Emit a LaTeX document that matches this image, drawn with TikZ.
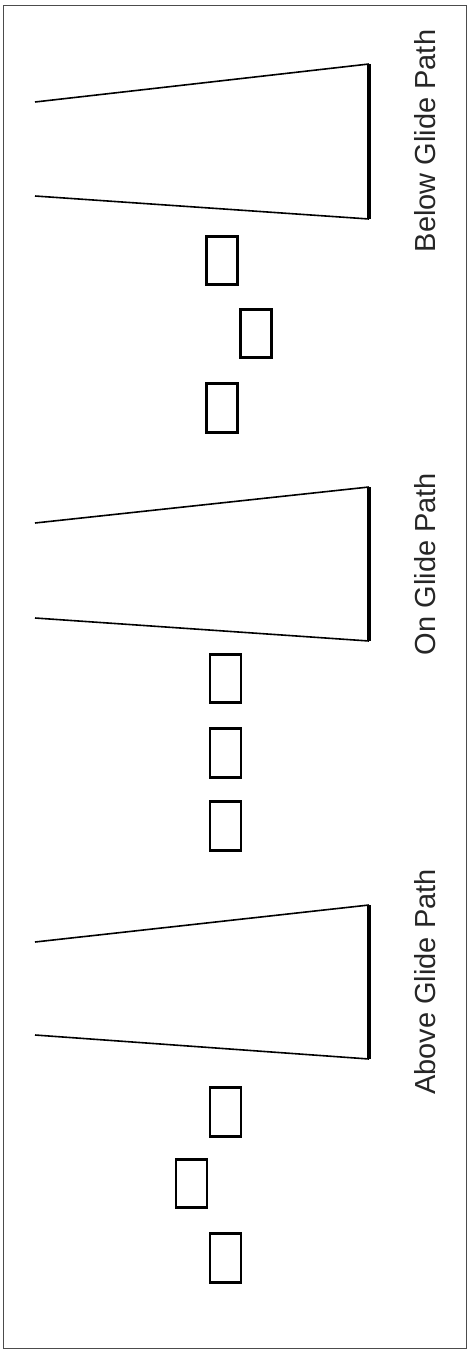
\documentclass[tikz,border=0pt]{standalone}
\usepackage{fontspec}
\setmainfont{Liberation Sans}
\begin{document}
\begin{tikzpicture}[x=1pt, y=-1pt,
        lamp/.style={rectangle, draw, line width=2.6pt, minimum width=31pt, minimum height=48.5pt, inner sep=0pt},
        edge/.style={line width=1.6pt},
        bar/.style={line width=3.2pt},
        caption/.style={rotate=90, font=\fontsize{29}{34}\selectfont, text=black!85, inner sep=0pt}]
        \useasboundingbox (0,0) rectangle (470,1354);
        \draw[gray!60!black, line width=1.5pt] (3.5,5.5) rectangle (466.5,1348.5);

        % Define runway corners
        \coordinate (btl) at (35, 102);
        \coordinate (btr) at (369, 64);
        \coordinate (bbr) at (369, 219);
        \coordinate (bbl) at (35, 196);
        \coordinate (otl) at (35, 523);
        \coordinate (otr) at (369, 487);
        \coordinate (obr) at (369, 641);
        \coordinate (obl) at (35, 618);
        \coordinate (atl) at (35, 942);
        \coordinate (atr) at (369, 905);
        \coordinate (abr) at (369, 1059);
        \coordinate (abl) at (35, 1035);

        % Define captions
        \node[caption] (below) at (425, 141) {Below Glide Path};
        \node[caption] (on)    at (425, 564) {On Glide Path};
        \node[caption] (above) at (425, 982) {Above Glide Path};

        % Define lamps
        \node[lamp] (b1) at (222, 260.5) {};
        \node[lamp] (b2) at (256, 333.5) {};
        \node[lamp] (b3) at (222, 408) {};
        \node[lamp] (o1) at (225.5, 678.5) {};
        \node[lamp] (o2) at (225.5, 753) {};
        \node[lamp] (o3) at (225.5, 826) {};
        \node[lamp] (a1) at (225.5, 1112) {};
        \node[lamp] (a2) at (191.5, 1183.5) {};
        \node[lamp] (a3) at (225.5, 1258) {};

        % Draw runways
        \draw[edge] (btl) -- (btr);
        \draw[bar]  (btr) -- (bbr);
        \draw[edge] (bbr) -- (bbl);
        \draw[edge] (otl) -- (otr);
        \draw[bar]  (otr) -- (obr);
        \draw[edge] (obr) -- (obl);
        \draw[edge] (atl) -- (atr);
        \draw[bar]  (atr) -- (abr);
        \draw[edge] (abr) -- (abl);
    \end{tikzpicture}
\end{document}
